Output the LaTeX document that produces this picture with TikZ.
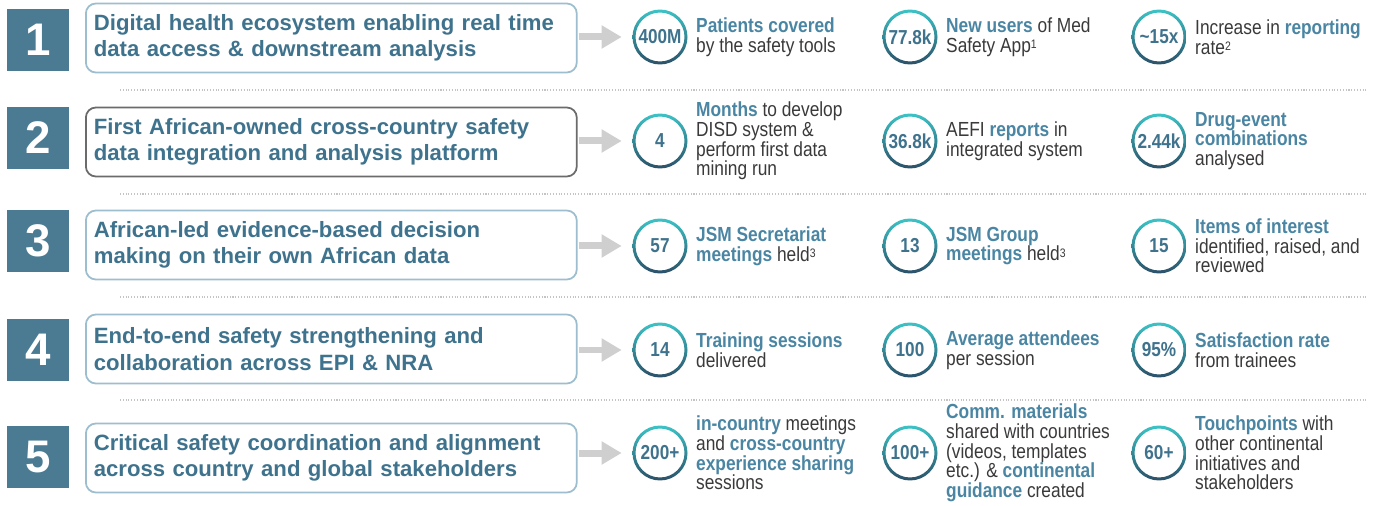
\documentclass[tikz,border=0pt]{standalone}
\usepackage{fontspec}
\setmainfont{Liberation Sans}
\newfontfamily\narrowfont[FakeStretch=0.85]{Liberation Sans}
\usetikzlibrary{arrows.meta,positioning}

\definecolor{numblue}{HTML}{4A7B93}
\definecolor{titleblue}{HTML}{3F738D}
\definecolor{hlblue}{HTML}{4A86A3}
\definecolor{boxline}{HTML}{9CBECE}
\definecolor{boxdark}{HTML}{6B6B6B}
\definecolor{ringtop}{HTML}{3CC3C6}
\definecolor{ringbot}{HTML}{2C5068}
\definecolor{statgrey}{HTML}{3A3A3A}
\definecolor{arrowgrey}{HTML}{CFCFCF}
\definecolor{sepgrey}{HTML}{C4C4C4}

\newcommand{\hl}[1]{{\bfseries\color{hlblue}#1}}
\newcommand{\fnote}[1]{\raisebox{0.35ex}{\fontsize{7}{7}\selectfont #1}}

\tikzset{
  numbox/.style={fill=numblue, text=white, minimum width=1.24cm, minimum height=1.26cm,
    inner sep=0pt, font=\bfseries\fontsize{26}{26}\selectfont},
  titlebox/.style={draw=#1, line width=1pt, rounded corners=0.2cm, minimum height=1.38cm,
    text width=9.5cm, inner xsep=0.16cm, align=left, text=titleblue,
    font=\bfseries\fontsize{12.6}{15}\selectfont},
  statring/.style={circle, minimum size=1.1cm, inner sep=0pt, text=titleblue,
    font=\narrowfont\bfseries\fontsize{11.5}{12}\selectfont,
    path picture={\shade[top color=ringtop, bottom color=ringbot, even odd rule]
      (path picture bounding box.center) circle (0.55cm) circle (0.49cm);}},
  stattext/.style={inner sep=0pt, align=left, text=statgrey,
    font=\narrowfont\fontsize{11.6}{11.2}\selectfont},
  gaparrow/.style={arrowgrey, line width=0.14cm, -{Triangle[width=0.44cm,length=0.4cm]},
    shorten <=0.02cm, shorten >=0.21cm},
  sepline/.style={sepgrey, densely dotted, line width=0.6pt}
}

\begin{document}
\begin{tikzpicture}[x=0.02cm,y=-0.02cm]

   \path[fill=white, use as bounding box] (0,0) rectangle (1382,506);

   \foreach \i/\ny/\y/\bc/\txt in {
      1/40/38/boxline/{Digital health ecosystem enabling real time\\data access \& downstream analysis},
      2/138/142/boxdark/{First African-owned cross-country safety\\data integration and analysis platform},
      3/241/245/boxline/{African-led evidence-based decision\\making on their own African data},
      4/350/349/boxline/{End-to-end safety strengthening and\\collaboration across EPI \& NRA},
      5/457/458/boxline/{Critical safety coordination and alignment\\across country and global stakeholders}}
   {
      \node[numbox] (num\i) at (38,\ny) {\i};
      \node[titlebox=\bc, anchor=west] (title\i) at (85,\y) {\txt};
   }

   \foreach \y in {90,194,297,400}
   {
      \draw[sepline] (120,\y) -- (1368,\y);
   }

   % row 1
   \node[statring] (s11) at (660,37) {400M};
   \node[statring] (s12) at (910,37) {77.8k};
   \node[statring] (s13) at (1159,37) {\textasciitilde15x};
   \node[stattext, right=0.16cm of s11] (t11) {\hl{Patients covered}\\by the safety tools};
   \node[stattext, right=0.16cm of s12] (t12) {\hl{New users} of Med\\Safety App\fnote{1}};
   \node[stattext, right=0.16cm of s13] (t13) {Increase in \hl{reporting}\\rate\fnote{2}};

   % row 2
   \node[statring] (s21) at (660,141) {4};
   \node[statring] (s22) at (910,141) {36.8k};
   \node[statring] (s23) at (1159,141) {2.44k};
   \node[stattext, right=0.16cm of s21] (t21) {\hl{Months} to develop\\DISD system \&\\perform first data\\mining run};
   \node[stattext, right=0.16cm of s22] (t22) {AEFI \hl{reports} in\\integrated system};
   \node[stattext, right=0.16cm of s23] (t23) {\hl{Drug-event}\\\hl{combinations}\\analysed};

   % row 3
   \node[statring] (s31) at (660,246) {57};
   \node[statring] (s32) at (910,246) {13};
   \node[statring] (s33) at (1159,246) {15};
   \node[stattext, right=0.16cm of s31] (t31) {\hl{JSM Secretariat}\\\hl{meetings} held\fnote{3}};
   \node[stattext, right=0.16cm of s32] (t32) {\hl{JSM Group}\\\hl{meetings} held\fnote{3}};
   \node[stattext, right=0.16cm of s33] (t33) {\hl{Items of interest}\\identified, raised, and\\reviewed};

   % row 4
   \node[statring] (s41) at (660,350) {14};
   \node[statring] (s42) at (910,350) {100};
   \node[statring] (s43) at (1159,350) {95\%};
   \node[stattext, right=0.16cm of s41] (t41) {\hl{Training sessions}\\delivered};
   \node[stattext, right=0.16cm of s42] (t42) {\hl{Average attendees}\\per session};
   \node[stattext, right=0.16cm of s43] (t43) {\hl{Satisfaction rate}\\from trainees};

   % row 5
   \node[statring] (s51) at (660,453) {200+};
   \node[statring] (s52) at (910,453) {100+};
   \node[statring] (s53) at (1159,453) {60+};
   \node[stattext, right=0.16cm of s51] (t51) {\hl{in-country} meetings\\and \hl{cross-country}\\\hl{experience sharing}\\sessions};
   \node[stattext, right=0.16cm of s52] (t52) {\hl{Comm. materials}\\shared with countries\\(videos, templates\\etc.) \& \hl{continental}\\\hl{guidance} created};
   \node[stattext, right=0.16cm of s53] (t53) {\hl{Touchpoints} with\\other continental\\initiatives and\\stakeholders};

   \foreach \i in {1,...,5}
   {
      \draw[gaparrow] (title\i.east |- s\i1) -- (s\i1);
   }
\end{tikzpicture}
\end{document}
